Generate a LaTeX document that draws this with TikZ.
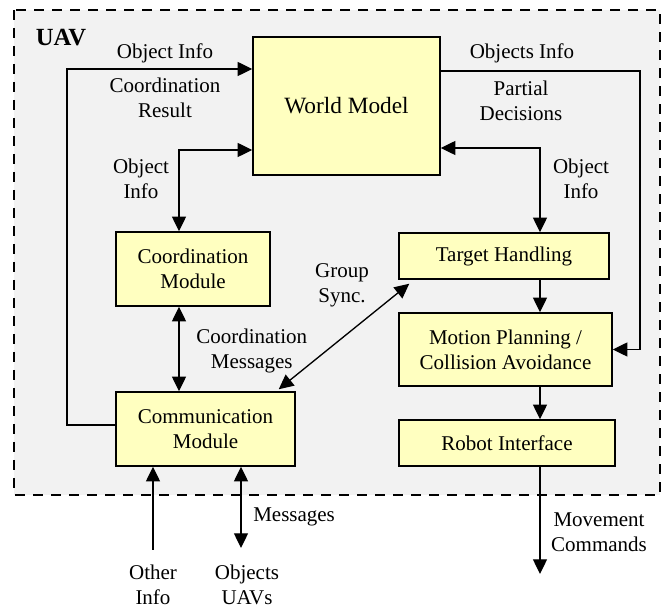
\documentclass[tikz,border=0pt]{standalone}
\usepackage{fontspec}
\setmainfont{Liberation Serif}
\usetikzlibrary{arrows.meta}
\definecolor{boxfill}{RGB}{255,255,192}
\definecolor{uavgray}{RGB}{242,242,242}
\begin{document}
\begin{tikzpicture}[x=0.75pt,y=-0.75pt,
  txt/.style={font=\fontsize{15.75}{18.75}\selectfont, align=center, inner sep=0pt},
  box/.style={draw=black, line width=1.1pt, fill=boxfill, align=center, inner sep=0pt,
    font=\fontsize{15.75}{18.75}\selectfont},
  arr/.style={line width=1pt, -{Triangle[length=11pt,width=10.5pt]}},
  arrboth/.style={line width=1pt, {Triangle[length=11pt,width=10.5pt]}-{Triangle[length=11pt,width=10.5pt]}}
]
\useasboundingbox (0,0) rectangle (662,605);
% UAV frame
\draw[fill=uavgray, line width=2.2pt, dash pattern=on 7.5pt off 6pt] (14,10) rectangle (660,495);
\node[font=\fontsize{18.5}{20}\selectfont\bfseries, inner sep=0pt] (uav) at (61,38) {UAV};

% boxes
\node[box, minimum width=140.25pt, minimum height=103.5pt, font=\fontsize{17.5}{20}\selectfont] (WM) at (346.5,106) {World Model};
\node[box, minimum width=115.5pt, minimum height=55.5pt] (CM) at (193,269) {Coordination\\Module};
\node[box, minimum width=134.25pt, minimum height=55.5pt] (COM) at (205.5,429) {Communication\\Module};
\node[box, minimum width=157.5pt, minimum height=34.5pt] (TH) at (504,256) {Target Handling};
\node[box, minimum width=159.75pt, minimum height=54.75pt] (MP) at (505.5,349.5) {Motion Planning /\\Collision Avoidance};
\node[box, minimum width=162pt, minimum height=34.5pt] (RI) at (507,443) {Robot Interface};

% helper columns
\coordinate (colOut) at (67,0);
\coordinate (colL) at (179,0);
\coordinate (colR) at (540,0);
\coordinate (colFar) at (640,0);
\coordinate (mvEnd) at (540,574);
\coordinate (oiStart) at (153,550);
\coordinate (msEnd) at (241,548);

% connectors
\draw[arr] ([yshift=3pt]COM.west) -| (colOut |- 0,69) -- ([yshift=27.75pt]WM.west);
\draw[arrboth] (colL |- CM.north) |- ([yshift=-33pt]WM.west);
\draw[arrboth] (colL |- CM.south) -- (colL |- COM.north);
\draw[arrboth] ([xshift=-12.75pt,yshift=1.5pt]COM.north east) -- ([xshift=8.25pt,yshift=-3pt]TH.south west);
\draw[arrboth] ([yshift=-31.5pt]WM.east) -| (colR |- TH.north);
\draw[arr] (colR |- TH.south) -- (colR |- MP.north);
\draw[arr] (colR |- MP.south) -- (colR |- RI.north);
\draw[arr] (colR |- RI.south) -- (mvEnd);
\draw[arr] ([yshift=26.25pt]WM.east) -| (colFar |- MP.east) -- (MP.east);
\draw[arr] (oiStart) -- (oiStart |- COM.south);
\draw[arrboth] (msEnd |- COM.south) -- (msEnd);

% labels
\node[txt] (l1) at (165,53) {Object Info};
\node[txt] (l2) at (165,98) {Coordination\\Result};
\node[txt] (l3) at (141,178.5) {Object\\Info};
\node[txt, anchor=west] (l4) at (196,351) {Coordination\\Messages};
\node[txt] (l5) at (342,285.5) {Group\\Sync.};
\node[txt] (l6) at (522,53) {Objects Info};
\node[txt] (l7) at (521,100.5) {Partial\\Decisions};
\node[txt] (l8) at (581,178.5) {Object\\Info};
\node[txt, anchor=west] (l9) at (253,517) {Messages};
\node[txt] (l10) at (153,585) {Other\\Info};
\node[txt] (l11) at (247,585) {Objects\\UAVs};
\node[txt] (l12) at (599,532.5) {Movement\\Commands};
\end{tikzpicture}
\end{document}
